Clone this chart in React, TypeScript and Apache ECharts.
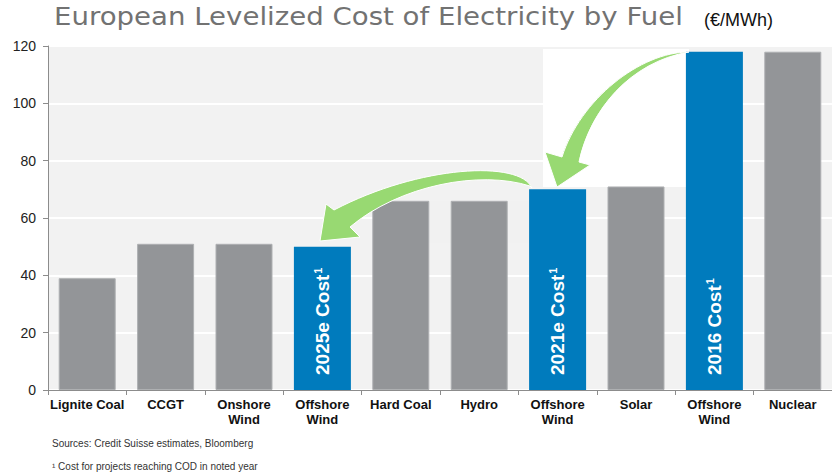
import React, { useEffect, useRef } from 'react';
import * as echarts from 'echarts';

const categories = ['Lignite Coal', 'CCGT', 'Onshore\nWind', 'Offshore\nWind', 'Hard Coal', 'Hydro', 'Offshore\nWind', 'Solar', 'Offshore\nWind', 'Nuclear'];
const values = [39, 51, 51, 50, 66, 66, 70, 71, 118, 118];
const highlighted = [false, false, false, true, false, false, true, false, true, false];
const barNotes = ['', '', '', '2025e Cost', '', '', '2021e Cost', '', '2016 Cost', ''];
const noteMark = '1';
const yTicks = { min: 0, max: 120, interval: 20 };

const titleText = 'European Levelized Cost of Electricity by Fuel';
const unitText = '(€/MWh)';
const sourceText = 'Sources: Credit Suisse estimates, Bloomberg';
const footnoteText = '¹ Cost for projects reaching COD in noted year';

const ARROW_1 = 'M 689 52 C 640 52 580 100 562 157 L 545 152 L 557 187 L 590 165 L 579 162 C 590 110 630 62 689 52 Z';
const ARROW_2 = 'M 532 188 C 520 160 420 165 334 210 L 326 204 L 320 241 L 360 237 L 350 227 C 400 185 480 170 530 186 Z';

let registered = false;
function registerArrows() {
  if (registered) return;
  echarts.graphic.registerShape('arrowOne', echarts.graphic.extendPath(ARROW_1, {}));
  echarts.graphic.registerShape('arrowTwo', echarts.graphic.extendPath(ARROW_2, {}));
  registered = true;
}

const GRAY = '#939598';
const BLUE = '#007bbd';
const FONT = 'Liberation Sans, Arial, sans-serif';

export default function App() {
  const ref = useRef<HTMLDivElement>(null);
  useEffect(() => {
    if (!ref.current) return;
    registerArrows();
    const chart = echarts.init(ref.current, null, { renderer: 'svg' });
    const arrowStyle = { fill: '#98d972', stroke: '#ffffff', lineWidth: 1 };
    chart.setOption({
      animation: false,
      grid: {
        left: 48, top: 46, width: 790, bottom: 86,
        show: true, backgroundColor: '#f2f2f2', borderWidth: 0,
      },
      xAxis: {
        type: 'category',
        data: categories,
        axisLine: { lineStyle: { color: '#8c8c8c', width: 1 } },
        axisTick: { show: true, length: 5, lineStyle: { color: '#8c8c8c' } },
        axisLabel: {
          interval: 0, margin: 7, color: '#111', fontSize: 13, fontWeight: 'bold',
          fontFamily: FONT, lineHeight: 15,
        },
      },
      yAxis: {
        type: 'value',
        min: yTicks.min, max: yTicks.max, interval: yTicks.interval,
        axisLine: { show: true, lineStyle: { color: '#8c8c8c', width: 1 } },
        axisTick: { show: true, length: 5, lineStyle: { color: '#8c8c8c' } },
        axisLabel: { margin: 12, color: '#222', fontSize: 14, fontFamily: FONT },
        splitLine: { lineStyle: { color: '#ffffff', width: 2 } },
      },
      series: [{
        type: 'bar',
        barWidth: 57,
        z: 2,
        data: values.map((v, i) => ({
          value: v,
          itemStyle: highlighted[i]
            ? { color: BLUE }
            : { color: GRAY, borderColor: '#aeb0b2', borderWidth: 1 },
          label: barNotes[i] ? {
            show: true,
            formatter: '{a|' + barNotes[i] + '}{s|' + noteMark + '}',
            position: 'insideBottom',
            rotate: 90,
            align: 'left',
            verticalAlign: 'middle',
            distance: 15,
            rich: {
              a: { color: '#ffffff', fontSize: 19, fontWeight: 'bold', fontFamily: FONT, lineHeight: 20 },
              s: { color: '#ffffff', fontSize: 11, fontWeight: 'bold', fontFamily: FONT, lineHeight: 11, verticalAlign: 'top', padding: [0, 0, 0, 1] },
            },
          } : { show: false },
        })),
      }],
      graphic: [
        { type: 'rect', z: 1, shape: { x: 543, y: 49, width: 146, height: 138 }, style: { fill: '#ffffff' } },
        { type: 'rect', z: 1, shape: { x: 373, y: 201, width: 157, height: 42 }, style: { fill: '#f1f1f1' } },
        { type: 'arrowTwo', z: 100, x: 0, y: 0, style: arrowStyle },
        { type: 'arrowOne', z: 100, x: 0, y: 0, style: arrowStyle },
        {
          type: 'text', x: 54, y: 5, z: 100, scaleX: 1.15,
          style: { text: titleText, fontSize: 24, fontWeight: 'normal', fontFamily: 'DejaVu Sans, sans-serif', fill: '#727272' },
        },
        {
          type: 'text', x: 773, y: 11, z: 100,
          style: { text: unitText, fontSize: 18, fontFamily: FONT, fill: '#111', align: 'right' },
        },
        {
          type: 'text', left: 52, top: 438, z: 100,
          style: { text: sourceText, fontSize: 10, fontFamily: FONT, fill: '#333' },
        },
        {
          type: 'text', left: 52, top: 461, z: 100,
          style: { text: footnoteText, fontSize: 10, fontFamily: FONT, fill: '#333' },
        },
      ],
    });
    return () => chart.dispose();
  }, []);
  return <div ref={ref} style={{ position: 'absolute', left: 0, top: 0, width: 832, height: 476 }} />;
}
